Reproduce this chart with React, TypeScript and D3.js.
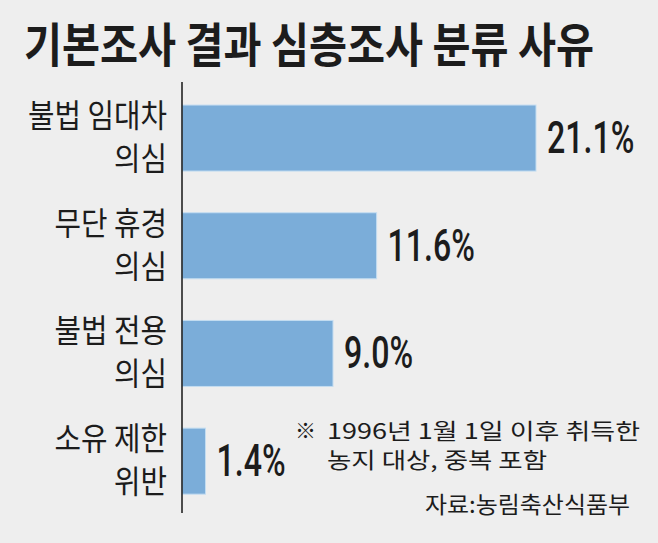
import React, { useEffect, useRef } from 'react';
import * as d3 from 'd3';

// 기본조사 결과 심층조사 분류 사유
const labelLine1 = ['불법 임대차', '무단 휴경', '불법 전용', '소유 제한'];
const labelLine2 = ['의심', '의심', '의심', '위반'];
const values = [21.1, 11.6, 9.0, 1.4];
const valueLabels = ['21.1%', '11.6%', '9.0%', '1.4%'];

const title = '기본조사 결과 심층조사 분류 사유';
const noteLines = ['1996년 1월 1일 이후 취득한', '농지 대상, 중복 포함'];
const source = '자료:농림축산식품부';

const W = 658, H = 543;
const KR = '"Noto Sans CJK KR", "Noto Sans", sans-serif';

export default function App() {
  const ref = useRef<SVGSVGElement>(null);

  useEffect(() => {
    document.body.style.margin = '0';
    const svg = d3.select(ref.current);
    svg.selectAll('*').remove();

    svg.append('rect').attr('width', W).attr('height', H).attr('fill', '#eeeeee');

    const axisX = 182;
    const x = d3.scaleLinear().domain([0, d3.max(values) as number]).range([axisX, 536]);
    const y = d3.scaleBand<number>()
      .domain(d3.range(values.length))
      .range([83.5, 515.7])
      .paddingInner(0.387)
      .paddingOuter(0.2);

    // title, squeezed horizontally like the condensed print face
    svg.append('text')
      .attr('transform', 'translate(24,62) scale(0.88,1)')
      .attr('font-family', KR).attr('font-weight', 700).attr('font-size', 47)
      .attr('fill', '#1c1c1c')
      .text(title);

    const rows = svg.selectAll('g.row')
      .data(values)
      .enter()
      .append('g').attr('class', 'row');

    rows.append('rect')
      .attr('x', axisX)
      .attr('y', (_d, i) => y(i) as number)
      .attr('width', d => x(d) - axisX)
      .attr('height', y.bandwidth())
      .attr('fill', '#7badd9')
      .attr('stroke', '#c4ddf1')
      .attr('stroke-width', 1);

    rows.append('text')
      .attr('transform', (_d, i) => `translate(${x(values[i]) + 11},${(y(i) as number) + y.bandwidth() / 2 + 15}) scale(0.73,1)`)
      .attr('font-family', 'Roboto, sans-serif').attr('font-weight', 500).attr('font-size', 44)
      .attr('fill', '#1c1c1c')
      .text((_d, i) => valueLabels[i]);

    rows.append('text')
      .attr('transform', (_d, i) => `translate(167,${(y(i) as number) + y.bandwidth() / 2 - 11}) scale(0.9,1)`)
      .attr('text-anchor', 'end')
      .attr('font-family', KR).attr('font-size', 32)
      .attr('fill', '#1c1c1c')
      .text((_d, i) => labelLine1[i]);

    rows.append('text')
      .attr('transform', (_d, i) => `translate(167,${(y(i) as number) + y.bandwidth() / 2 + 32}) scale(0.9,1)`)
      .attr('text-anchor', 'end')
      .attr('font-family', KR).attr('font-size', 32)
      .attr('fill', '#1c1c1c')
      .text((_d, i) => labelLine2[i]);

    // axis line
    svg.append('line')
      .attr('x1', axisX).attr('x2', axisX)
      .attr('y1', 82).attr('y2', 513)
      .attr('stroke', '#161616').attr('stroke-width', 1.5);

    // note
    svg.append('text')
      .attr('x', 295).attr('y', 438)
      .attr('font-family', KR).attr('font-size', 21)
      .attr('fill', '#1c1c1c')
      .text('※');
    const noteW = [313, 220];
    noteLines.forEach((t, i) => {
      svg.append('text')
        .attr('x', 327).attr('y', 439 + i * 29)
        .attr('font-family', KR).attr('font-size', 22)
        .attr('fill', '#1c1c1c')
        .attr('textLength', noteW[i]).attr('lengthAdjust', 'spacingAndGlyphs')
        .text(t);
    });

    svg.append('text')
      .attr('x', 425).attr('y', 513)
      .attr('font-family', KR).attr('font-size', 23)
      .attr('fill', '#1c1c1c')
      .attr('textLength', 205).attr('lengthAdjust', 'spacingAndGlyphs')
      .text(source);
  }, []);

  return <svg ref={ref} width={W} height={H} style={{ display: 'block' }} />;
}
